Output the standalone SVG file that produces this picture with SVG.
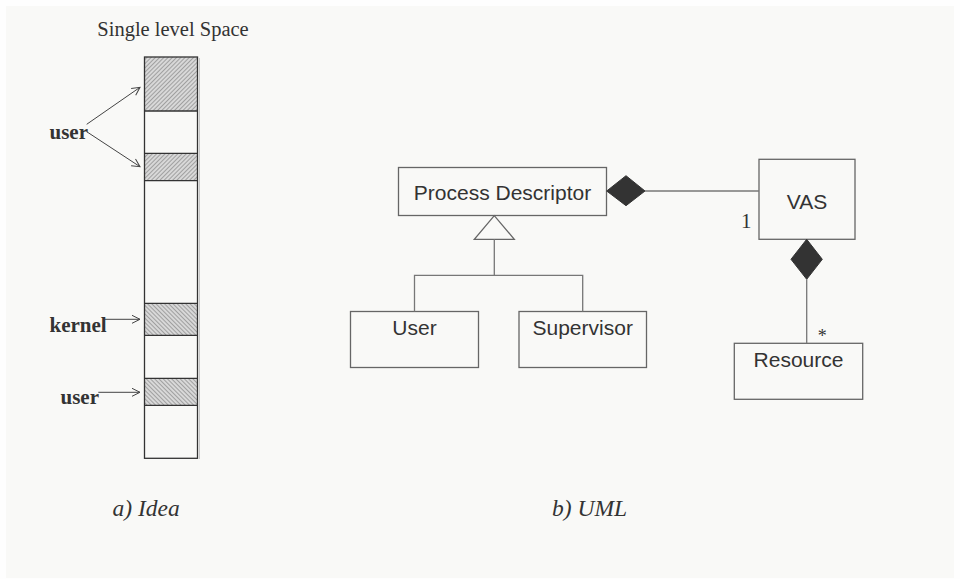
<svg xmlns="http://www.w3.org/2000/svg" width="960" height="579" viewBox="0 0 960 579">
  <style>
    .serif { font-family: "Liberation Serif", "Times New Roman", serif; fill: #333; }
    .sans { font-family: "Liberation Sans", Arial, sans-serif; fill: #333; font-size: 21px; text-anchor: middle; }
    .bold { font-weight: bold; font-size: 21px; }
    .cap { font-style: italic; font-size: 23.5px; }
    .col { fill: none; stroke: #333; stroke-width: 1.3; }
    .box { fill: none; stroke: #666; stroke-width: 1.3; }
    .conn { fill: none; stroke: #777; stroke-width: 1.3; }
    .arrow { fill: none; stroke: #444; stroke-width: 1; }
    .diamond { fill: #333; stroke: #333; stroke-width: 1; }
  </style>
  <defs>
    <pattern id="hatchA" width="3" height="3" patternUnits="userSpaceOnUse" patternTransform="rotate(45)">
      <rect width="3" height="3" fill="#d8d8d8"/>
      <line x1="0" y1="0" x2="0" y2="3" stroke="#7a7a7a" stroke-width="1.2"/>
    </pattern>
    <pattern id="hatchB" width="3" height="3" patternUnits="userSpaceOnUse" patternTransform="rotate(-45)">
      <rect width="3" height="3" fill="#d8d8d8"/>
      <line x1="0" y1="0" x2="0" y2="3" stroke="#7a7a7a" stroke-width="1.2"/>
    </pattern>
    <marker id="open" markerWidth="10" markerHeight="10" refX="9" refY="5" orient="auto" markerUnits="userSpaceOnUse">
      <path d="M1,1 L9,5 L1,9" fill="none" stroke="#444" stroke-width="1"/>
    </marker>
  </defs>

  <rect x="0" y="0" width="960" height="579" fill="#fefefe"/>
  <rect x="6" y="6" width="948" height="572" fill="#f9f9f7"/>

  <!-- a) Idea -->
  <g id="single-level-space">
    <text class="serif" x="173" y="36" font-size="20.5" text-anchor="middle">Single level Space</text>
    <line x1="199.5" y1="58" x2="199.5" y2="459" stroke="#c8c8c8" stroke-width="1"/>
    <rect x="144.5" y="57" width="53" height="54" fill="url(#hatchA)"/>
    <rect x="144.5" y="153.3" width="53" height="27.4" fill="url(#hatchA)"/>
    <rect x="144.5" y="303.3" width="53" height="32" fill="url(#hatchB)"/>
    <rect x="144.5" y="378.3" width="53" height="27" fill="url(#hatchB)"/>
    <rect class="col" x="144.5" y="57" width="53" height="401.3"/>
    <line class="col" x1="144.5" y1="111" x2="197.5" y2="111"/>
    <line class="col" x1="144.5" y1="153.3" x2="197.5" y2="153.3"/>
    <line class="col" x1="144.5" y1="180.7" x2="197.5" y2="180.7"/>
    <line class="col" x1="144.5" y1="303.3" x2="197.5" y2="303.3"/>
    <line class="col" x1="144.5" y1="335.3" x2="197.5" y2="335.3"/>
    <line class="col" x1="144.5" y1="378.3" x2="197.5" y2="378.3"/>
    <line class="col" x1="144.5" y1="405.3" x2="197.5" y2="405.3"/>
  </g>

  <g id="label-user-1">
    <text class="serif bold" x="49.5" y="139">user</text>
  </g>
  <g id="label-kernel">
    <text class="serif bold" x="49.5" y="331.5">kernel</text>
  </g>
  <g id="label-user-2">
    <text class="serif bold" x="60.5" y="404">user</text>
  </g>

  <g id="idea-arrows">
    <line class="arrow" x1="86.7" y1="124.3" x2="140" y2="87.3" marker-end="url(#open)"/>
    <line class="arrow" x1="86.7" y1="131.7" x2="140" y2="166.7" marker-end="url(#open)"/>
    <line class="arrow" x1="105" y1="319.3" x2="140" y2="319.3" marker-end="url(#open)"/>
    <line class="arrow" x1="98.3" y1="392.3" x2="140" y2="392.3" marker-end="url(#open)"/>
  </g>

  <g id="caption-a">
    <text class="serif cap" x="112.5" y="516">a) Idea</text>
  </g>

  <!-- b) UML -->
  <g id="process-descriptor">
    <rect class="box" x="398.5" y="167.5" width="208" height="48"/>
    <text class="sans" x="502.5" y="200">Process Descriptor</text>
  </g>
  <g id="user">
    <rect class="box" x="350.5" y="311.5" width="128" height="56"/>
    <text class="sans" x="414.5" y="335">User</text>
  </g>
  <g id="supervisor">
    <rect class="box" x="519" y="311.5" width="127.5" height="56"/>
    <text class="sans" x="582.7" y="335">Supervisor</text>
  </g>
  <g id="vas">
    <rect class="box" x="759" y="159.3" width="96" height="80"/>
    <text class="sans" x="807" y="209" font-size="23">VAS</text>
  </g>
  <g id="resource">
    <rect class="box" x="734.3" y="343.3" width="128.4" height="56"/>
    <text class="sans" x="798.5" y="367">Resource</text>
  </g>

  <g id="connectors">
    <polygon class="box" points="494.3,215.7 474.3,239.3 514.3,239.3" fill="#f9f9f7"/>
    <polyline class="conn" points="494.3,239.3 494.3,275.3"/>
    <polyline class="conn" points="414.5,311.5 414.5,275.3 582.7,275.3 582.7,311.5"/>
    <polygon class="diamond" points="606.7,191 626,175.7 645,191 626,205.7"/>
    <line class="conn" x1="645" y1="191" x2="759" y2="191"/>
    <polygon class="diamond" points="806.7,239.3 822.3,259.3 806.7,279.3 791,259.3"/>
    <line class="conn" x1="806.7" y1="279.3" x2="806.7" y2="343.3"/>
    <text class="serif" x="741" y="227.5" font-size="21">1</text>
    <text class="serif" x="822.3" y="342" font-size="18" text-anchor="middle">*</text>
  </g>

  <g id="caption-b">
    <text class="serif cap" x="552" y="516">b) UML</text>
  </g>
</svg>
